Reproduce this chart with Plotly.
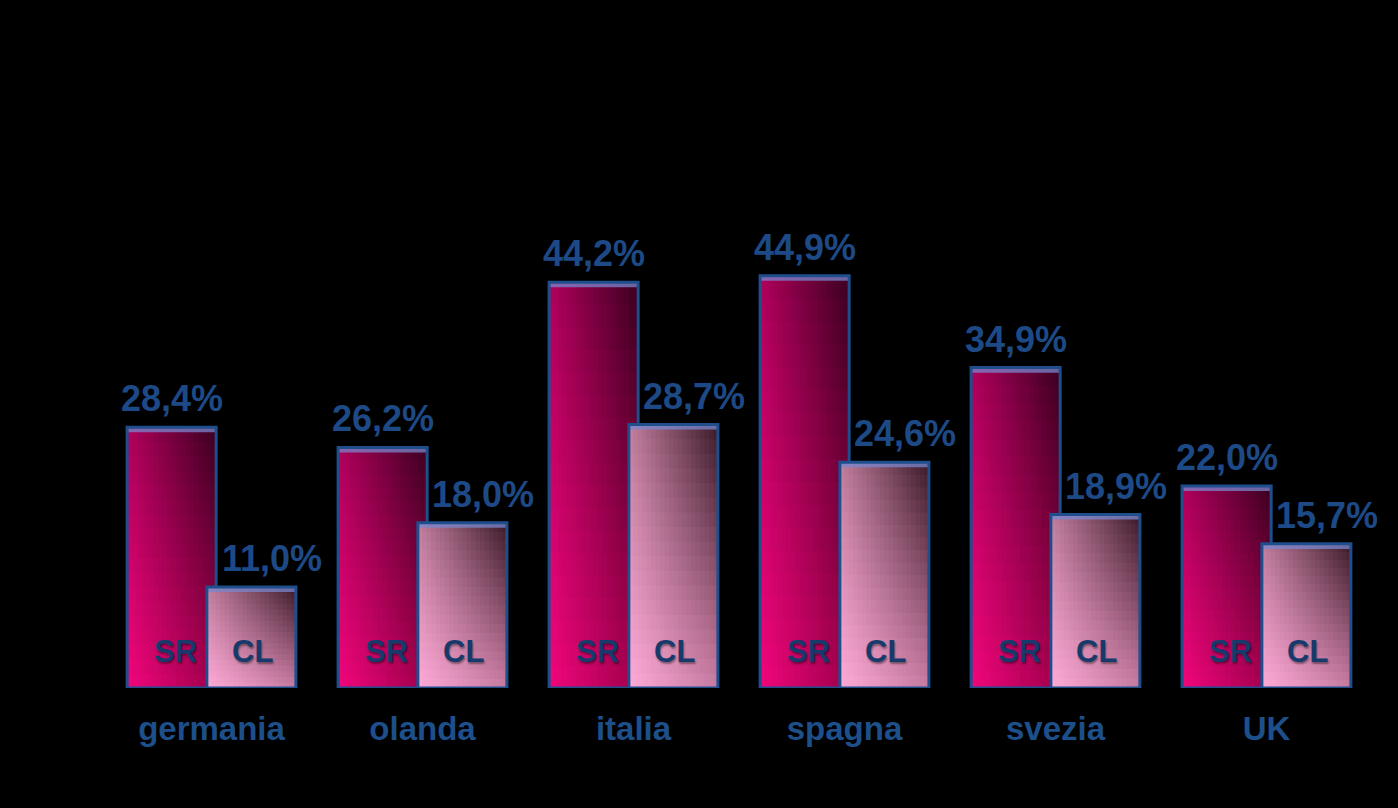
import plotly.graph_objects as go

categories = ["germania", "olanda", "italia", "spagna", "svezia", "UK"]
sr_values = [28.4, 26.2, 44.2, 44.9, 34.9, 22.0]
cl_values = [11.0, 18.0, 28.7, 24.6, 18.9, 15.7]
series_names = ["SR", "CL"]


def hex2rgb(h):
    h = h.lstrip("#")
    return [int(h[i:i + 2], 16) for i in (0, 2, 4)]


def bilerp(c, u, w):
    bl, br, tl, tr = [hex2rgb(x) for x in c]
    out = []
    for k in range(3):
        b = bl[k] * (1 - u) + br[k] * u
        t = tl[k] * (1 - u) + tr[k] * u
        out.append(int(round(b * (1 - w) + t * w)))
    return "rgb(%d,%d,%d)" % tuple(out)


# corner colours: bottom-left, bottom-right, top-left, top-right
SR_CORNERS = ["#f2067c", "#a0004c", "#b0005c", "#3a0020"]
CL_CORNERS = ["#ffaad8", "#c87ca2", "#c27e9e", "#3a1a28"]

N = 20  # horizontal strips
M = 18  # vertical cells

fig = go.Figure()
xs = list(range(len(categories)))


def add_series(values, left, width, corners):
    step = width / N
    for j in range(M):
        w = (j + 0.5) / M
        base = [v * j / M for v in values]
        if j == M - 1:
            hgt = [v - b for v, b in zip(values, base)]
        else:
            hgt = [v / M * 1.15 for v in values]
        for k in range(N):
            u = (k + 0.5) / N
            wd = step if k == N - 1 else step * 1.2
            fig.add_trace(go.Bar(
                x=xs, y=hgt, base=base, offset=left + k * step, width=wd,
                marker=dict(color=bilerp(corners, u, w), line=dict(width=0)),
                hoverinfo="skip", showlegend=False))
    # top bevel
    bev = 0.55
    fig.add_trace(go.Bar(
        x=xs, y=[bev] * len(values), base=[v - bev for v in values],
        offset=left, width=width,
        marker=dict(color="rgba(120,135,205,0.75)", line=dict(width=0)),
        hoverinfo="skip", showlegend=False))
    # outline
    fig.add_trace(go.Bar(
        x=xs, y=values, offset=left, width=width,
        marker=dict(color="rgba(0,0,0,0)", line=dict(color="#1f4e8c", width=3)),
        hoverinfo="skip", showlegend=False))


SR_LEFT, SR_W = -0.40, 0.422
CL_LEFT, CL_W = -0.022, 0.422
add_series(sr_values, SR_LEFT, SR_W, SR_CORNERS)
add_series(cl_values, CL_LEFT, CL_W, CL_CORNERS)

value_color = "#1d4a86"
ann = []
for i, v in enumerate(sr_values):
    ann.append(dict(x=i + SR_LEFT + SR_W / 2, y=v, text=f"{v:.1f}%".replace(".", ","),
                    showarrow=False, yanchor="bottom", yshift=6,
                    font=dict(family="Liberation Sans, Arial", size=36, color=value_color, weight="bold")))
    ann.append(dict(x=i + SR_LEFT + SR_W / 2, y=0, text=series_names[0], showarrow=False,
                    yanchor="middle", yshift=37, xshift=4,
                    font=dict(family="Liberation Sans, Arial", size=31, color="#163a6c", weight="bold",
                              shadow="1px 2px 2px rgba(0,0,0,0.4)")))
for i, v in enumerate(cl_values):
    ann.append(dict(x=i + CL_LEFT + CL_W / 2, y=v, text=f"{v:.1f}%".replace(".", ","),
                    showarrow=False, yanchor="bottom", yshift=6, xshift=21,
                    font=dict(family="Liberation Sans, Arial", size=36, color=value_color, weight="bold")))
    ann.append(dict(x=i + CL_LEFT + CL_W / 2, y=0, text=series_names[1], showarrow=False,
                    yanchor="middle", yshift=37, xshift=1,
                    font=dict(family="Liberation Sans, Arial", size=31, color="#163a6c", weight="bold",
                              shadow="1px 2px 2px rgba(0,0,0,0.4)")))

fig.update_layout(
    barmode="overlay",
    width=1398, height=808,
    paper_bgcolor="black", plot_bgcolor="black",
    margin=dict(l=106, r=26, t=229, b=120),
    annotations=ann,
    xaxis=dict(range=[-0.5, 5.5], tickvals=xs, ticktext=categories,
               showgrid=False, zeroline=False, showline=False, ticks="",
               ticklabelstandoff=18,
               tickfont=dict(family="Liberation Sans, Arial", size=33, color="#1d4f8a", weight="bold")),
    yaxis=dict(range=[0, 50], visible=False, showgrid=False, zeroline=False),
    showlegend=False,
)

fig.write_html("out.html", config={"displayModeBar": False},
               post_script="document.body.style.margin='0';document.body.style.background='black';")
